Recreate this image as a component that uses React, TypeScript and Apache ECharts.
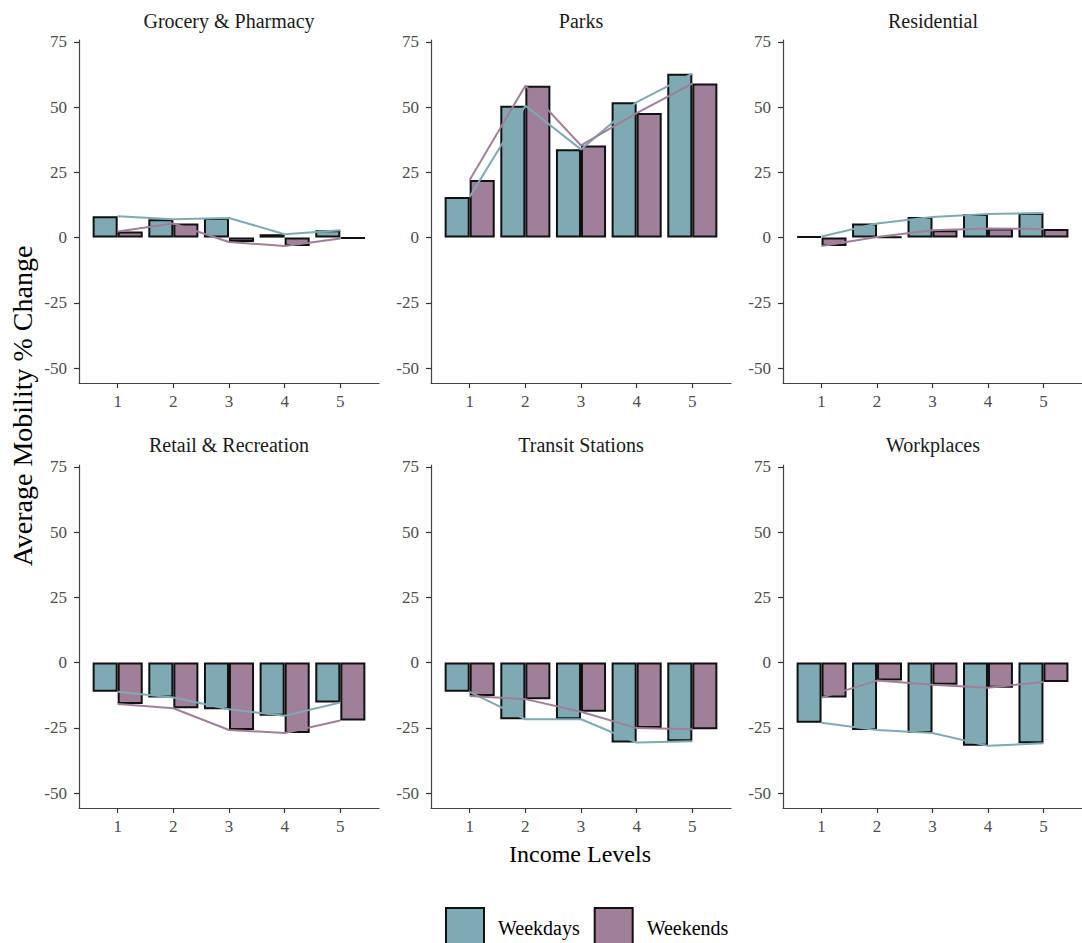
import React, { useEffect, useRef } from "react";
import * as echarts from "echarts";

const incomeLevels = [1, 2, 3, 4, 5];
const panelTitles = [
  "Grocery & Pharmacy",
  "Parks",
  "Residential",
  "Retail & Recreation",
  "Transit Stations",
  "Workplaces",
];
const groceryWeekdays = [8.2, 7.0, 7.5, 1.3, 2.8];
const groceryWeekends = [2.3, 5.4, -1.7, -3.2, -0.3];
const parksWeekdays = [15.6, 50.5, 33.8, 51.9, 62.8];
const parksWeekends = [22.1, 58.2, 35.3, 47.7, 59.0];
const residentialWeekdays = [0.4, 5.4, 7.9, 9.0, 9.4];
const residentialWeekends = [-3.2, 0.2, 2.8, 3.5, 3.3];
const retailWeekdays = [-11.2, -13.4, -17.9, -20.4, -15.3];
const retailWeekends = [-15.9, -17.5, -25.8, -27.0, -22.2];
const transitWeekdays = [-11.2, -21.7, -21.7, -30.6, -30.1];
const transitWeekends = [-12.8, -14.0, -18.8, -25.1, -25.5];
const workplacesWeekdays = [-23.0, -25.8, -27.0, -31.9, -30.9];
const workplacesWeekends = [-13.4, -6.9, -8.5, -9.6, -7.4];
const yTickValues = [-50, -25, 0, 25, 50, 75];

const weekdaysByPanel = [
  groceryWeekdays,
  parksWeekdays,
  residentialWeekdays,
  retailWeekdays,
  transitWeekdays,
  workplacesWeekdays,
];
const weekendsByPanel = [
  groceryWeekends,
  parksWeekends,
  residentialWeekends,
  retailWeekends,
  transitWeekends,
  workplacesWeekends,
];

const TEAL = "#7FAAB3";
const PURPLE = "#A07F98";
const FONT = "'Liberation Serif', 'Times New Roman', serif";

export default function App() {
  const ref = useRef<HTMLDivElement>(null);
  useEffect(() => {
    if (!ref.current) return;
    const chart = echarts.init(ref.current, undefined, { renderer: "svg" });
    const lefts = [79, 431, 783];
    const tops = [40, 465];
    const W = 300;
    const H = 343;
    const grids: any[] = [];
    const xAxes: any[] = [];
    const yAxes: any[] = [];
    const series: any[] = [];
    const graphics: any[] = [];
    panelTitles.forEach((t, i) => {
      const col = i % 3;
      const row = Math.floor(i / 3);
      grids.push({ left: lefts[col], top: tops[row], width: W, height: H, containLabel: false });
      xAxes.push({
        type: "value",
        gridIndex: i,
        min: 0.305,
        max: 5.695,
        axisLine: { show: true, onZero: false, lineStyle: { color: "#444", width: 1.2 } },
        axisTick: { show: true, length: 5, customValues: incomeLevels, lineStyle: { color: "#333", width: 1.2 } },
        axisLabel: {
          customValues: incomeLevels,
          margin: 10,
          color: "#4d4d4d",
          fontFamily: FONT,
          fontSize: 17,
        },
        splitLine: { show: false },
      });
      yAxes.push({
        type: "value",
        gridIndex: i,
        min: -55.7,
        max: 75.7,
        axisLine: { show: true, onZero: false, lineStyle: { color: "#444", width: 1.2 } },
        axisTick: { show: true, length: 5, customValues: yTickValues, lineStyle: { color: "#333", width: 1.2 } },
        axisLabel: {
          customValues: yTickValues,
          margin: 12,
          color: "#4d4d4d",
          fontFamily: FONT,
          fontSize: 17,
        },
        splitLine: { show: false },
      });
      const wd = weekdaysByPanel[i];
      const we = weekendsByPanel[i];
      series.push({
        type: "bar",
        name: "Weekdays",
        xAxisIndex: i,
        yAxisIndex: i,
        data: incomeLevels.map((x, k) => [x, wd[k]]),
        barWidth: "45%",
        barGap: "0%",
        itemStyle: { color: TEAL, borderColor: "#111", borderWidth: 2 },
        z: 2,
      });
      series.push({
        type: "bar",
        name: "Weekends",
        xAxisIndex: i,
        yAxisIndex: i,
        data: incomeLevels.map((x, k) => [x, we[k]]),
        barWidth: "45%",
        barGap: "0%",
        itemStyle: { color: PURPLE, borderColor: "#111", borderWidth: 2 },
        z: 2,
      });
      series.push({
        type: "line",
        name: "Weekdays trend",
        xAxisIndex: i,
        yAxisIndex: i,
        data: incomeLevels.map((x, k) => [x, wd[k]]),
        symbol: "none",
        lineStyle: { color: TEAL, width: 2 },
        itemStyle: { color: TEAL },
        z: 3,
      });
      series.push({
        type: "line",
        name: "Weekends trend",
        xAxisIndex: i,
        yAxisIndex: i,
        data: incomeLevels.map((x, k) => [x, we[k]]),
        symbol: "none",
        lineStyle: { color: PURPLE, width: 2 },
        itemStyle: { color: PURPLE },
        z: 3,
      });
      graphics.push({
        type: "text",
        x: lefts[col] + W / 2,
        y: row === 0 ? 21 : 445,
        style: {
          text: t,
          fill: "#1a1a1a",
          font: `20px ${FONT}`,
          align: "center",
          verticalAlign: "middle",
        },
      });
    });
    graphics.push({
      type: "text",
      x: 580,
      y: 854,
      style: {
        text: "Income Levels",
        fill: "#000",
        font: `24px ${FONT}`,
        align: "center",
        verticalAlign: "middle",
      },
    });
    graphics.push({
      type: "text",
      x: 22,
      y: 406,
      rotation: Math.PI / 2,
      style: {
        text: "Average Mobility % Change",
        fill: "#000",
        font: `28px ${FONT}`,
        align: "center",
        verticalAlign: "middle",
      },
    });
    chart.setOption({
      animation: false,
      backgroundColor: "#fff",
      grid: grids,
      xAxis: xAxes,
      yAxis: yAxes,
      series,
      graphic: graphics,
      legend: {
        data: [
          { name: "Weekdays", itemStyle: { color: TEAL, borderColor: "#111", borderWidth: 2 } },
          { name: "Weekends", itemStyle: { color: PURPLE, borderColor: "#111", borderWidth: 2 } },
        ],
        left: 445,
        top: 907,
        padding: 0,
        icon: "rect",
        itemWidth: 38,
        itemHeight: 40,
        itemGap: 14,
        selectedMode: false,
        textStyle: { fontFamily: FONT, fontSize: 20, color: "#000", padding: [0, 0, 0, 9] },
      },
    });
    return () => chart.dispose();
  }, []);
  return (
    <div
      ref={ref}
      style={{ position: "fixed", left: 0, top: 0, width: 1082, height: 943, background: "#fff" }}
    />
  );
}
